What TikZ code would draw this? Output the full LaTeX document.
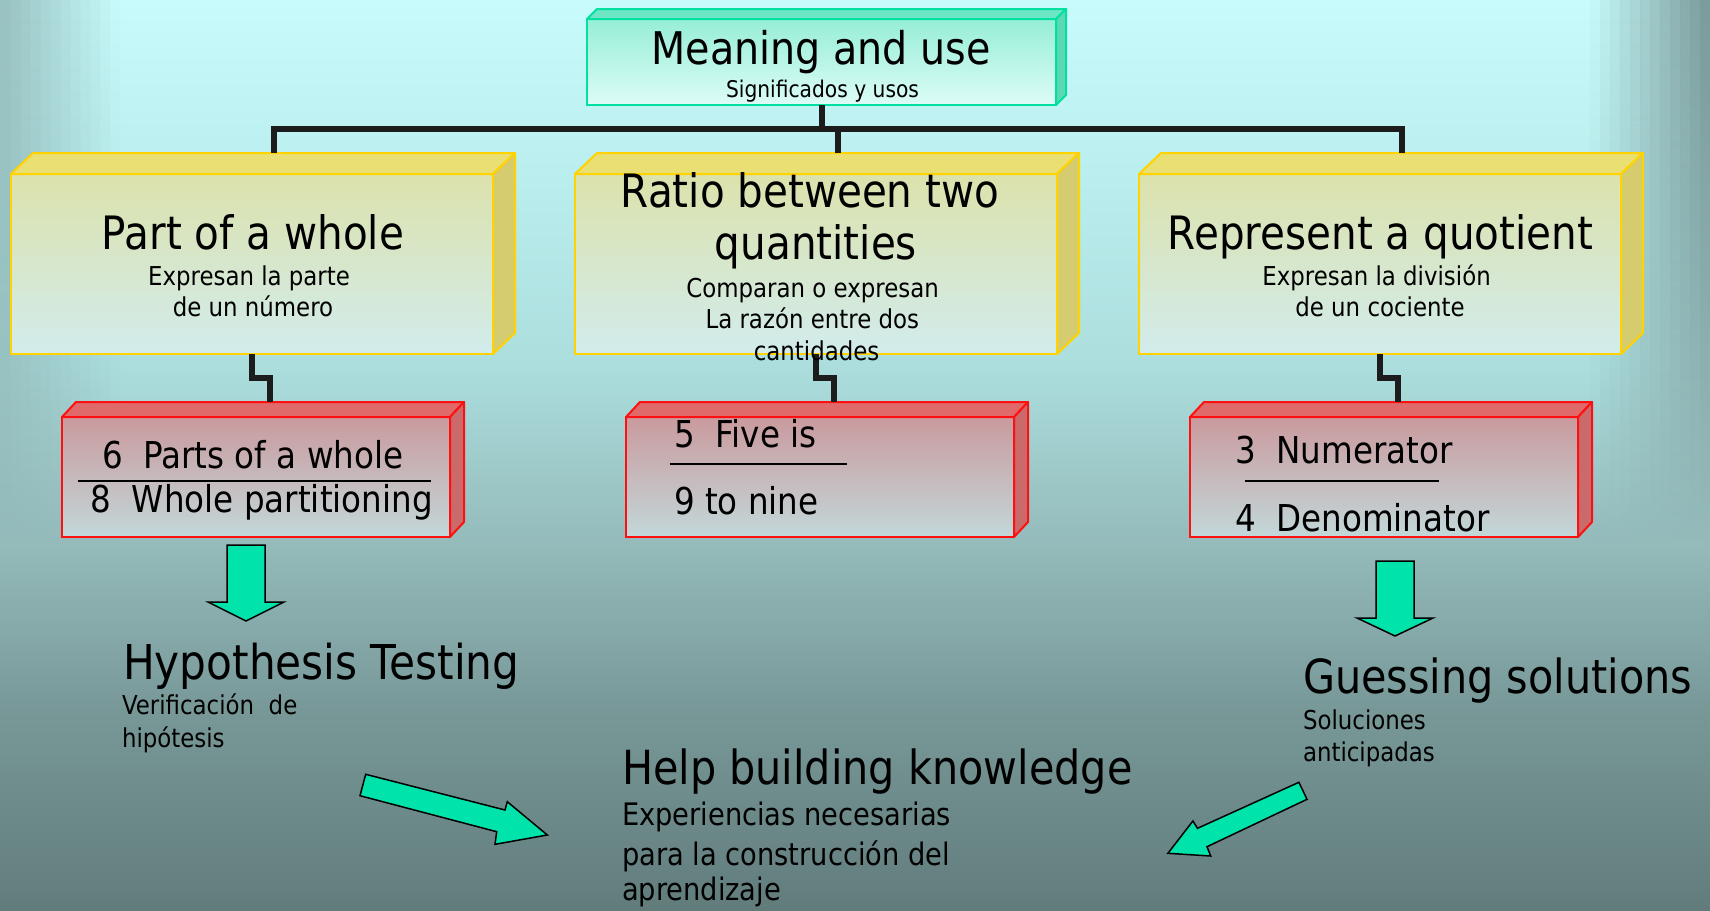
\documentclass[tikz,border=0pt]{standalone}
\usepackage{fontspec}
\setmainfont[FakeStretch=0.88]{DejaVu Sans}
\usetikzlibrary{calc}

% background
\definecolor{bgA}{HTML}{C8FCFC}
\definecolor{bgB}{HTML}{ACDEDE}
\definecolor{bgC}{HTML}{94BABA}
\definecolor{bgD}{HTML}{789898}
\definecolor{bgE}{HTML}{627C7C}
% boxes
\definecolor{gBord}{HTML}{00E0A0}
\definecolor{gTopT}{HTML}{96EED6}
\definecolor{gTopB}{HTML}{DDFCF8}
\definecolor{gLid}{HTML}{6CE6C4}
\definecolor{gSide}{HTML}{5CD8B4}
\definecolor{yBord}{HTML}{FFD200}
\definecolor{yTopT}{HTML}{DCE2AC}
\definecolor{yTopB}{HTML}{D2ECEC}
\definecolor{yLid}{HTML}{EADF72}
\definecolor{ySide}{HTML}{D4CC6E}
\definecolor{rBord}{HTML}{FF1010}
\definecolor{rTopT}{HTML}{CA9A9E}
\definecolor{rTopB}{HTML}{C2D8DA}
\definecolor{rLid}{HTML}{E06A6A}
\definecolor{rSide}{HTML}{CA6A6A}
\definecolor{lineBlack}{HTML}{1C1C1C}
\definecolor{arrowGreen}{HTML}{00E4AC}

\pgfdeclareverticalshading{bgshade}{100bp}{color(0bp)=(bgE); color(25bp)=(bgE); color(36bp)=(bgD); color(45bp)=(bgC); color(55bp)=(bgB); color(75bp)=(bgA); color(100bp)=(bgA)}

% lid and side faces of a box node: #1 node, #2 depth x, #3 depth y, #4 lid, #5 side, #6 border
\newcommand\boxfaces[6]{%
  \filldraw[fill=#4, draw=#6, line width=2pt, line join=round]
    (#1.north west) -- ++(#2,-#3) -- ($(#1.north east)+(#2,-#3)$) -- (#1.north east) -- cycle;
  \filldraw[fill=#5, draw=#6, line width=2pt, line join=round]
    (#1.north east) -- ++(#2,-#3) -- ($(#1.south east)+(#2,-#3)$) -- (#1.south east) -- cycle;
}

\tikzset{
  frontbox/.style={rectangle, line width=2pt, inner sep=0pt, outer sep=0pt},
  gbox/.style={frontbox, draw=gBord, top color=gTopT, bottom color=gTopB,
               minimum width=469pt, minimum height=86pt},
  ybox/.style={frontbox, draw=yBord, top color=yTopT, bottom color=yTopB,
               minimum width=482pt, minimum height=180pt},
  rbox/.style={frontbox, draw=rBord, top color=rTopT, bottom color=rTopB,
               minimum width=388pt, minimum height=120pt},
  conn/.style={draw=lineBlack, line width=6pt, line join=miter},
  blockarrow/.style={fill=arrowGreen, draw=black, line width=1.5pt, line join=miter},
  edgeband/.style={top color=bgD, bottom color=bgC},
  txt/.style={inner sep=0pt, outer sep=0pt, text=black},
  head/.style={txt, font=\fontsize{46}{50}\selectfont},
  big/.style={txt, font=\fontsize{47}{52}\selectfont},
  sub/.style={txt, font=\fontsize{26}{30}\selectfont},
  fracline/.style={txt, font=\fontsize{37}{40}\selectfont},
  rule/.style={draw=black, line width=1.6pt}
}

\begin{document}
\begin{tikzpicture}[x=1pt, y=-1pt]
\useasboundingbox (0,0) rectangle (1710,910);

% backdrop with darker banded side edges that melt into the lower tone
\shade[shading=bgshade] (0,0) rectangle (1710,910);
\foreach \i [evaluate=\i as \op using (\i+0.5)/12] in {0,...,11}
  \shade[edgeband, opacity=\op] (1590+10*\i,0) rectangle ++(10,546);
\foreach \i [evaluate=\i as \op using 0.6*(11.5-\i)/12] in {0,...,11}
  \shade[edgeband, opacity=\op] (10*\i,0) rectangle ++(10,546);

% boxes
\node[gbox] (mu) at (821.5,62) {};
\node[ybox] (pw) at (252,264) {};
\node[ybox] (rt) at (816,264) {};
\node[ybox] (rq) at (1380,264) {};
\node[rbox] (pr) at (256,477) {};
\node[rbox] (fr) at (820,477) {};
\node[rbox] (qr) at (1384,477) {};

\boxfaces{mu}{10}{10}{gLid}{gSide}{gBord}
\boxfaces{pw}{22}{21}{yLid}{ySide}{yBord}
\boxfaces{rt}{22}{21}{yLid}{ySide}{yBord}
\boxfaces{rq}{22}{21}{yLid}{ySide}{yBord}
\boxfaces{pr}{14}{15}{rLid}{rSide}{rBord}
\boxfaces{fr}{14}{15}{rLid}{rSide}{rBord}
\boxfaces{qr}{14}{15}{rLid}{rSide}{rBord}

% connector ends on the back edge of each lid
\coordinate (pw-b) at ($(pw.north)+(22,-21)$);
\coordinate (rt-b) at ($(rt.north)+(22,-21)$);
\coordinate (rq-b) at ($(rq.north)+(22,-21)$);
\coordinate (pr-b) at ($(pr.north)+(14,-15)$);
\coordinate (fr-b) at ($(fr.north)+(14,-15)$);
\coordinate (qr-b) at ($(qr.north)+(14,-15)$);
\coordinate (bar) at ($(mu.south)+(0,24)$);

% tree
\draw[conn] (mu.south) -- (bar);
\draw[conn] (pw-b) |- (bar) -| (rq-b);
\draw[conn] (rt-b) -- (rt-b |- bar);

% steps down to the red boxes
\coordinate (m1) at ($(pw.south)!.5!(pr-b)$);
\coordinate (m2) at ($(rt.south)!.5!(fr-b)$);
\coordinate (m3) at ($(rq.south)!.5!(qr-b)$);
\draw[conn] (pw.south) |- (m1) -| (pr-b);
\draw[conn] (rt.south) |- (m2) -| (fr-b);
\draw[conn] (rq.south) |- (m3) -| (qr-b);

% block arrows
\filldraw[blockarrow] (227,545) -- (265,545) -- (265,602) -- (284,602) -- (246,621) -- (208,602) -- (227,602) -- cycle;
\filldraw[blockarrow] (1376,561) -- (1414,561) -- (1414,618) -- (1433,618) -- (1395,636) -- (1357,618) -- (1376,618) -- cycle;
\filldraw[blockarrow] (365.7,774.3) -- (505,810) -- (507.3,801.7) -- (547.3,835) -- (495,844.3) -- (496.7,831.7) -- (360,795.7) -- cycle;
\filldraw[blockarrow] (1298.9,782.3) -- (1307,799.3) -- (1207,846.7) -- (1210.7,856) -- (1167.9,853.3) -- (1192.9,821) -- (1197.5,828.3) -- cycle;

% top box text
\node[txt, anchor=base, font=\fontsize{45}{50}\selectfont] (mu-t) at (821,64) {Meaning and use};
\node[txt, anchor=base, font=\fontsize{23}{26}\selectfont] (mu-s) at (822.5,97) {Significados y usos};

% yellow box texts
\node[head, anchor=base] (pw-t) at (253,249) {Part of a whole};
\node[sub, anchor=base] (pw-s1) at (249,285) {Expresan la parte};
\node[sub, anchor=base] (pw-s2) at (253,316) {de un número};

\node[head, anchor=base] (rt-t1) at (810,207) {Ratio between two};
\node[head, anchor=base] (rt-t2) at (816,259) {quantities};
\node[sub, anchor=base] (rt-s1) at (812.6,297) {Comparan o expresan};
\node[sub, anchor=base] (rt-s2) at (812.3,328) {La razón entre dos};
\node[sub, anchor=base] (rt-s3) at (816.6,360) {cantidades};

\node[head, anchor=base] (rq-t) at (1380.5,249) {Represent a quotient};
\node[sub, anchor=base] (rq-s1) at (1376.5,285) {Expresan la división};
\node[sub, anchor=base] (rq-s2) at (1380,316) {de un cociente};

% red box fractions
\node[fracline, anchor=base west] (pr-n) at (102,468) {6\ \ Parts of a whole};
\node[fracline, anchor=base west] (pr-d) at (90.6,512) {8\ \ Whole partitioning};
\draw[rule] (77.5,481) -- (430.5,481);

\node[fracline, anchor=base west] (fr-n) at (674,447) {5\ \ Five is};
\node[fracline, anchor=base west] (fr-d) at (674,514) {9 to nine};
\draw[rule] (669.5,464) -- (846.5,464);

\node[fracline, anchor=base west] (qr-n) at (1235,463) {3\ \ Numerator};
\node[fracline, anchor=base west] (qr-d) at (1235,531) {4\ \ Denominator};
\draw[rule] (1245,481) -- (1439,481);

% outcomes
\node[big, anchor=base west, font=\fontsize{48}{52}\selectfont] (ht) at (123,679) {Hypothesis Testing};
\node[sub, anchor=base west] (ht-s1) at (122,714) {Verificación\ \ de};
\node[sub, anchor=base west] (ht-s2) at (122,747) {hipótesis};

\node[big, anchor=base west] (gs) at (1303,693) {Guessing solutions};
\node[sub, anchor=base west] (gs-s1) at (1303,729) {Soluciones};
\node[sub, anchor=base west] (gs-s2) at (1303,761) {anticipadas};

\node[big, anchor=base west] (hb) at (622,784) {Help building knowledge};
\node[txt, anchor=base west, font=\fontsize{31}{34}\selectfont] (hb-s1) at (622,825) {Experiencias necesarias};
\node[txt, anchor=base west, font=\fontsize{31}{34}\selectfont] (hb-s2) at (622,865) {para la construcción del};
\node[txt, anchor=base west, font=\fontsize{31}{34}\selectfont] (hb-s3) at (622,900) {aprendizaje};
\end{tikzpicture}
\end{document}
